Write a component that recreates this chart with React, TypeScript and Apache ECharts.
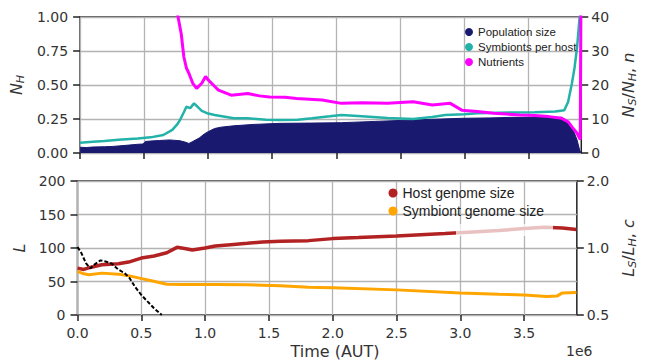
import React, { useEffect, useRef } from "react";
import * as echarts from "echarts";

// time values are in units of 1e6 AUT
const xTickValues = [0, 0.5, 1, 1.5, 2, 2.5, 3, 3.5];
const xMax = 3.913;

const populationSize: [number, number][] = [
  [0, 0.042], [0.05, 0.04], [0.1, 0.044], [0.19, 0.046], [0.25, 0.048], [0.3, 0.052],
  [0.38, 0.058], [0.45, 0.064], [0.49, 0.066], [0.51, 0.085], [0.55, 0.088], [0.62, 0.092],
  [0.7, 0.096], [0.78, 0.09], [0.82, 0.08], [0.85, 0.07], [0.88, 0.085], [0.93, 0.11],
  [0.97, 0.14], [1.0, 0.157], [1.05, 0.18], [1.1, 0.19], [1.2, 0.2], [1.35, 0.21],
  [1.56, 0.218], [1.8, 0.22], [2.04, 0.223], [2.3, 0.232], [2.6, 0.243], [2.98, 0.255],
  [3.2, 0.258], [3.36, 0.262], [3.6, 0.262], [3.76, 0.262], [3.81, 0.23], [3.85, 0.17],
  [3.88, 0.096], [3.9, 0.022], [3.91, 0],
];

const symbiontsPerHost: [number, number][] = [
  [0, 3.0], [0.1, 3.3], [0.19, 3.5], [0.3, 3.9], [0.45, 4.3], [0.55, 4.6], [0.65, 5.3],
  [0.72, 6.8], [0.76, 8.5], [0.78, 9.7], [0.81, 12], [0.83, 13.6], [0.86, 13.2],
  [0.89, 14.6], [0.92, 13.5], [0.95, 12.4], [1.0, 11.6], [1.05, 11.2], [1.2, 10.2],
  [1.31, 10.2], [1.45, 9.8], [1.56, 9.7], [1.7, 9.8], [1.81, 10.2], [1.95, 10.8],
  [2.04, 11.2], [2.2, 10.8], [2.4, 10.3], [2.6, 10.0], [2.75, 10.6], [2.85, 11.2],
  [3.0, 11.4], [3.1, 11.7], [3.36, 11.9], [3.55, 12.0], [3.71, 12.2], [3.78, 12.6],
  [3.81, 15], [3.84, 20.5], [3.86, 25], [3.88, 31], [3.9, 40], [3.905, 45],
];

const nutrients: [number, number][] = [
  [0.72, 60], [0.76, 41], [0.79, 35], [0.81, 28.3], [0.83, 25], [0.85, 23.4], [0.88, 20.5],
  [0.91, 19], [0.95, 20.5], [0.98, 22.5], [1.0, 21.5], [1.04, 20], [1.08, 18.5],
  [1.18, 17], [1.31, 17.5], [1.4, 16.8], [1.48, 16.5], [1.6, 16.4], [1.69, 16],
  [1.89, 15.6], [2.04, 14.6], [2.2, 14.8], [2.4, 14.6], [2.6, 15.1], [2.75, 14.1],
  [2.89, 14.6], [2.98, 12.6], [3.1, 12.2], [3.23, 11.7], [3.43, 11.2], [3.55, 11.0],
  [3.66, 10.7], [3.76, 10.2], [3.81, 9.2], [3.84, 7.7], [3.88, 5.8], [3.9, 4.3],
  [3.905, 4], [3.91, 45],
];

const hostGenomeSize: [number, number][] = [
  [0, 70], [0.05, 68], [0.1, 71], [0.19, 75], [0.32, 76.5], [0.4, 79], [0.5, 85],
  [0.6, 88], [0.7, 93], [0.78, 101], [0.85, 99], [0.9, 97], [1.0, 100], [1.08, 103],
  [1.2, 105], [1.33, 107], [1.45, 109], [1.59, 110], [1.81, 111], [2.0, 114],
  [2.2, 115.5], [2.5, 118], [2.88, 121.5], [3.1, 124], [3.3, 126], [3.5, 129],
  [3.66, 131], [3.8, 130], [3.91, 127.5],
];

const symbiontGenomeSize: [number, number][] = [
  [0, 65], [0.04, 62], [0.09, 60], [0.19, 62.5], [0.32, 61], [0.4, 58.5], [0.45, 56.5],
  [0.57, 51.5], [0.7, 46], [0.83, 45.5], [1.08, 45.5], [1.33, 45], [1.59, 43.5],
  [1.81, 41.5], [2.0, 40.5], [2.5, 37.5], [3.0, 33], [3.3, 31], [3.5, 30], [3.68, 27.5],
  [3.76, 28.5], [3.8, 33], [3.91, 33.5],
];

const genomeRatio: [number, number][] = [
  [0, 1.01], [0.03, 0.95], [0.066, 0.855], [0.1, 0.81], [0.13, 0.84], [0.18, 0.88],
  [0.22, 0.87], [0.27, 0.85], [0.32, 0.8], [0.37, 0.77], [0.41, 0.73], [0.45, 0.67],
  [0.5, 0.615], [0.55, 0.574], [0.6, 0.536], [0.66, 0.5],
];

const FONT = "DejaVu Sans";
const LEGEND_FONT = "Liberation Sans";
const AXIS = "#222";
const TEXT = "#333";
const GRIDLINE = "#b3b3b3";

const richName = {
  i: { fontStyle: "italic", fontSize: 16, fontFamily: FONT, color: TEXT },
  s: { fontStyle: "italic", fontSize: 11, fontFamily: FONT, color: TEXT, padding: [9, 0, 0, 0] },
};

const tickStyle = { show: true, length: 7, lineStyle: { color: AXIS, width: 1.5 } };
const labelStyle = { fontFamily: FONT, fontSize: 14, color: TEXT };

export default function App() {
  const ref = useRef<HTMLDivElement>(null);
  useEffect(() => {
    const chart = echarts.init(ref.current!, null, { renderer: "svg" });
    const gridBase = {
      left: 77.5,
      width: 515,
      show: true,
      borderColor: AXIS,
      borderWidth: 1.5,
      backgroundColor: "transparent",
      containLabel: false,
    };
    const option: any = {
      animation: false,
      grid: [
        { ...gridBase, top: 17, height: 136 },
        { ...gridBase, top: 181, height: 134 },
      ],
      legend: [
        {
          data: ["Population size", "Symbionts per host", "Nutrients"],
          orient: "vertical",
          left: 465,
          top: 26,
          icon: "circle",
          itemWidth: 8,
          itemHeight: 8,
          itemGap: 3,
          padding: 0,
          textStyle: { fontFamily: LEGEND_FONT, fontSize: 11.5, color: "#222" },
        },
        {
          data: ["Host genome size", "Symbiont genome size"],
          orient: "vertical",
          left: 388.5,
          top: 186,
          icon: "circle",
          itemWidth: 9,
          itemHeight: 9,
          itemGap: 4,
          padding: 0,
          textStyle: { fontFamily: LEGEND_FONT, fontSize: 14, color: "#222" },
        },
      ],
      xAxis: [0, 1].map((g) => ({
        gridIndex: g,
        type: "value",
        min: 0,
        max: xMax,
        interval: 0.5,
        axisLine: { show: false },
        axisTick: { ...tickStyle, length: 6, customValues: xTickValues },
        axisLabel: {
          show: g === 1,
          ...labelStyle,
          margin: 11,
          customValues: xTickValues,
          formatter: (v: number) => v.toFixed(1),
        },
        splitLine: { show: true, lineStyle: { color: GRIDLINE, width: 1.3 } },
      })),
      yAxis: [
        {
          gridIndex: 0,
          type: "value",
          position: "left",
          min: 0,
          max: 1,
          interval: 0.25,
          axisLine: { show: false },
          axisTick: tickStyle,
          axisLabel: { ...labelStyle, margin: 12, formatter: (v: number) => v.toFixed(2) },
          splitLine: { show: true, lineStyle: { color: GRIDLINE, width: 1.3 } },
          name: "{i|N}{s|H}",
          nameLocation: "middle",
          nameRotate: 90,
          nameGap: 50,
          nameTextStyle: { fontFamily: FONT, fontSize: 16, color: TEXT, rich: richName },
        },
        {
          gridIndex: 0,
          type: "value",
          position: "right",
          min: 0,
          max: 40,
          interval: 10,
          axisLine: { show: false },
          axisTick: tickStyle,
          axisLabel: { ...labelStyle, margin: 10 },
          splitLine: { show: false },
          name: "{i|N}{s|S}/{i|N}{s|H}, {i|n}",
          nameLocation: "middle",
          nameRotate: 90,
          nameGap: 34,
          nameTextStyle: { fontFamily: FONT, fontSize: 16, color: TEXT, rich: richName },
        },
        {
          gridIndex: 1,
          type: "value",
          position: "left",
          min: 0,
          max: 200,
          interval: 50,
          axisLine: { show: false },
          axisTick: tickStyle,
          axisLabel: { ...labelStyle, margin: 12 },
          splitLine: { show: true, lineStyle: { color: GRIDLINE, width: 1.3 } },
          name: "{i|L}",
          nameLocation: "middle",
          nameRotate: 90,
          nameGap: 46,
          nameTextStyle: { fontFamily: FONT, fontSize: 16, color: TEXT, rich: richName },
        },
        {
          gridIndex: 1,
          type: "log",
          logBase: 2,
          position: "right",
          min: 0.5,
          max: 2,
          axisLine: { show: false },
          axisTick: tickStyle,
          axisLabel: { ...labelStyle, margin: 10, formatter: (v: number) => v.toFixed(1) },
          splitLine: { show: false },
          name: "{i|L}{s|S}/{i|L}{s|H}, {i|c}",
          nameLocation: "middle",
          nameRotate: 90,
          nameGap: 37,
          nameTextStyle: { fontFamily: FONT, fontSize: 16, color: TEXT, rich: richName },
        },
      ],
      series: [
        {
          name: "Population size",
          type: "line",
          xAxisIndex: 0,
          yAxisIndex: 0,
          data: populationSize,
          symbol: "none",
          lineStyle: { color: "#191970", width: 1 },
          itemStyle: { color: "#191970" },
          areaStyle: { color: "#191970", opacity: 1 },
          z: 2,
        },
        {
          name: "Symbionts per host",
          type: "line",
          xAxisIndex: 0,
          yAxisIndex: 1,
          data: symbiontsPerHost,
          symbol: "none",
          lineStyle: { color: "#22b2a8", width: 2.5 },
          itemStyle: { color: "#22b2a8" },
          z: 3,
        },
        {
          name: "Nutrients",
          type: "line",
          xAxisIndex: 0,
          yAxisIndex: 1,
          data: nutrients,
          symbol: "none",
          lineStyle: { color: "#ff00ff", width: 3 },
          itemStyle: { color: "#ff00ff" },
          z: 4,
        },
        {
          name: "Host genome size",
          type: "line",
          xAxisIndex: 1,
          yAxisIndex: 2,
          data: hostGenomeSize,
          symbol: "none",
          lineStyle: { color: "#b22222", width: 3.5 },
          itemStyle: { color: "#b22222" },
          z: 2,
        },
        {
          name: "Symbiont genome size",
          type: "line",
          xAxisIndex: 1,
          yAxisIndex: 2,
          data: symbiontGenomeSize,
          symbol: "none",
          lineStyle: { color: "#ffa500", width: 3 },
          itemStyle: { color: "#ffa500" },
          z: 3,
        },
        {
          name: "c",
          type: "line",
          xAxisIndex: 1,
          yAxisIndex: 3,
          data: genomeRatio,
          symbol: "none",
          lineStyle: { color: "#000", width: 2, type: [4, 2] },
          itemStyle: { color: "#000" },
          z: 4,
        },
      ],
      graphic: [
        {
          type: "rect",
          shape: { x: 456, y: 224, width: 97, height: 12 },
          style: { fill: "rgba(255,255,255,0.72)" },
          z: 50,
          silent: true,
        },
        {
          type: "text",
          x: 335,
          y: 351,
          style: {
            text: "Time (AUT)",
            fontFamily: FONT,
            fontSize: 16,
            fill: TEXT,
            textAlign: "center",
            textVerticalAlign: "middle",
          },
        },
        {
          type: "text",
          x: 592.5,
          y: 351,
          style: {
            text: "1e6",
            fontFamily: FONT,
            fontSize: 14,
            fill: TEXT,
            textAlign: "right",
            textVerticalAlign: "middle",
          },
        },
      ],
    };
    chart.setOption(option);
    return () => chart.dispose();
  }, []);
  return (
    <div
      ref={ref}
      style={{ position: "fixed", left: 0, top: 0, width: 646, height: 362, background: "#fff" }}
    />
  );
}
